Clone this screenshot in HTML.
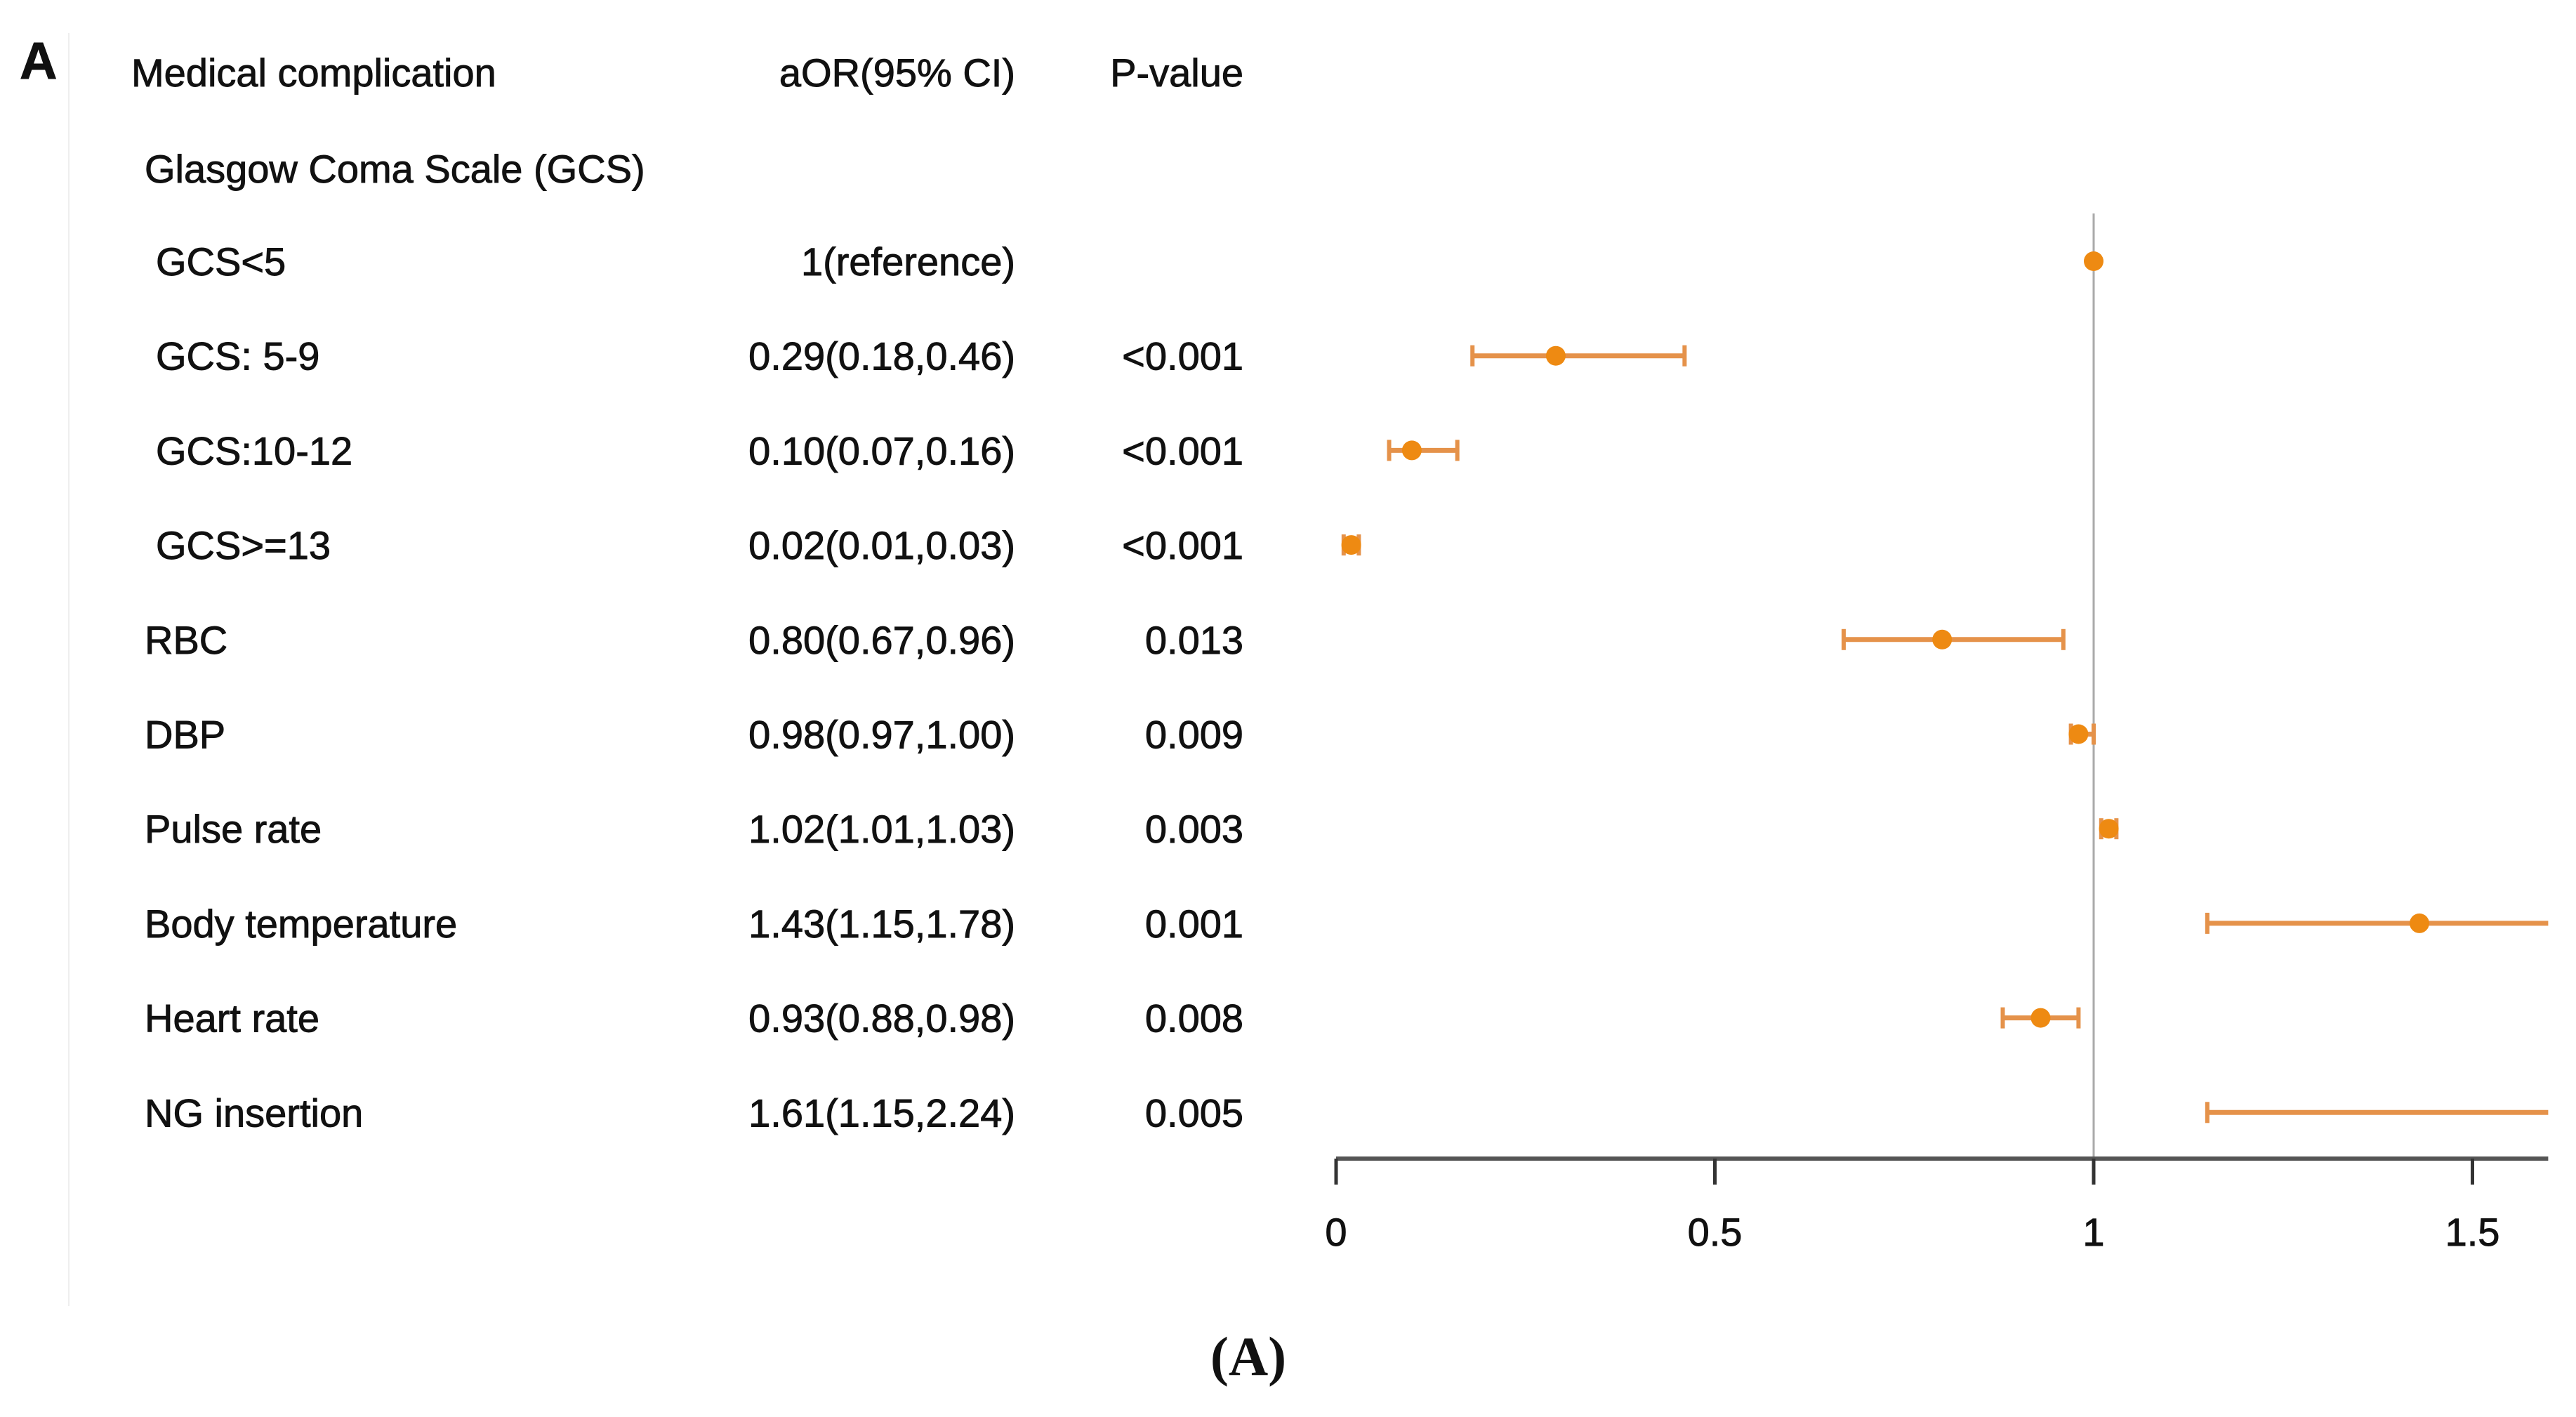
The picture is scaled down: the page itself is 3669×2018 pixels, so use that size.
<!DOCTYPE html>
<html><head><meta charset="utf-8"><style>
html,body{margin:0;padding:0;background:#fff;}
svg{display:block;}
text{font-family:"Liberation Sans",Arial,sans-serif;fill:#111;stroke:#111;stroke-width:0.9px;}
</style></head><body>
<svg id="chart" width="3669" height="2018" viewBox="0 0 3669 2018" xmlns="http://www.w3.org/2000/svg">
<line x1="98" y1="47" x2="98" y2="1860" stroke="#eee" stroke-width="2"/>
<text x="28" y="112" font-size="74" font-weight="bold">A</text>
<text x="187" y="123" font-size="56">Medical complication</text>
<text x="1446" y="123" font-size="56" text-anchor="end">aOR(95% CI)</text>
<text x="1771" y="123" font-size="56" text-anchor="end">P-value</text>
<text x="206" y="260" font-size="56">Glasgow Coma Scale (GCS)</text>
<g id="rows"></g>
<g id="plot"></g>
<text x="1778" y="1958" font-size="78" font-weight="bold" text-anchor="middle" style="font-family:'Liberation Serif',serif;stroke-width:0">(A)</text>
</svg>
<script>
const labels = ["GCS<5","GCS: 5-9","GCS:10-12","GCS>=13","RBC","DBP","Pulse rate","Body temperature","Heart rate","NG insertion"];
const indent = [1,1,1,1,0,0,0,0,0,0];
const estimates = [1,0.29,0.10,0.02,0.80,0.98,1.02,1.43,0.93,1.61];
const lower = [null,0.18,0.07,0.01,0.67,0.97,1.01,1.15,0.88,1.15];
const upper = [null,0.46,0.16,0.03,0.96,1.00,1.03,1.78,0.98,2.24];
const ciText = ["1(reference)","0.29(0.18,0.46)","0.10(0.07,0.16)","0.02(0.01,0.03)","0.80(0.67,0.96)","0.98(0.97,1.00)","1.02(1.01,1.03)","1.43(1.15,1.78)","0.93(0.88,0.98)","1.61(1.15,2.24)"];
const pText = ["","<0.001","<0.001","<0.001","0.013","0.009","0.003","0.001","0.008","0.005"];
const ticks = [0,0.5,1,1.5];
const xMin = 0, xMax = 1.6;

const NS="http://www.w3.org/2000/svg";
const x0=1903, pxPerUnit=1079;
const xs = v => x0 + (v - xMin) * pxPerUnit;
const xRight = xs(xMax);
const ys = i => 372 + i * 134.7;
const rows=document.getElementById('rows'), plot=document.getElementById('plot');
function mk(tag, attrs, parent){const e=document.createElementNS(NS,tag);for(const k in attrs)e.setAttribute(k,attrs[k]);parent.appendChild(e);return e;}
const clip = v => Math.max(xMin, Math.min(xMax, v));

const ref = mk('line',{x1:xs(1),x2:xs(1),y1:304,y2:1650,stroke:'#aaa','stroke-width':3},plot);



labels.forEach((lab,i)=>{
  const y=ys(i);
  const t=mk('text',{x:indent[i]?222:206,y:y+20,'font-size':56},rows); t.textContent=lab;
  
  
  const c=mk('text',{x:1446,y:y+20,'font-size':56,'text-anchor':'end'},rows); c.textContent=ciText[i];
  
  
  if(pText[i]){const p=mk('text',{x:1771,y:y+20,'font-size':56,'text-anchor':'end'},rows); p.textContent=pText[i];
  
  }
  if(lower[i]!==null){
    const g=mk('g',{},plot);
    
    
    const a=xs(clip(lower[i])), b=xs(clip(upper[i]));
    mk('line',{x1:a,x2:b,y1:y,y2:y,stroke:'#E5924A','stroke-width':7},g);
    if(lower[i]>=xMin) mk('line',{x1:a,x2:a,y1:y-15,y2:y+15,stroke:'#E5924A','stroke-width':6},g);
    if(upper[i]<=xMax) mk('line',{x1:b,x2:b,y1:y-15,y2:y+15,stroke:'#E5924A','stroke-width':6},g);
  }
  if(estimates[i]<=xMax){
    const d=mk('circle',{cx:xs(estimates[i]),cy:y,r:14,fill:'#EE8A12'},plot);
    
    
  }
});

const ax=mk('line',{x1:x0,x2:xRight,y1:1650,y2:1650,stroke:'#555','stroke-width':6},plot);


ticks.forEach(v=>{
  const tl=mk('line',{x1:xs(v),x2:xs(v),y1:1650,y2:1687,stroke:'#333','stroke-width':5},plot);
  
  
  const tt=mk('text',{x:xs(v),y:1774,'font-size':56,'text-anchor':'middle'},plot); tt.textContent=String(v);
  
  
});
</script>
</body></html>
